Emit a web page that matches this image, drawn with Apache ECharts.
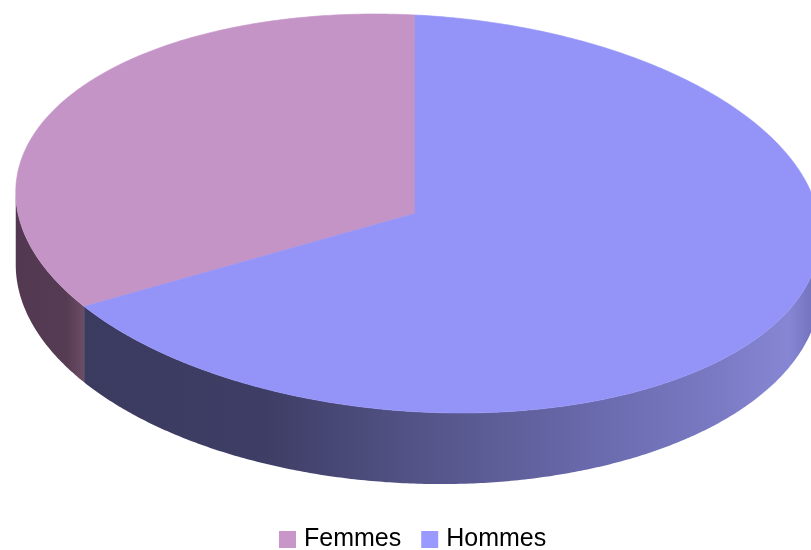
<!DOCTYPE html>
<html>
<head>
<meta charset="utf-8">
<script src="https://cdn.jsdelivr.net/npm/echarts@6/dist/echarts.min.js"></script>
<style>
    html, body { margin: 0; padding: 0; background: #fff; }
    #main { width: 811px; height: 550px; }
</style>
</head>
<body>
<div id="main"></div>
<script>
// data
const categories = ['Femmes', 'Hommes'];
const shares = [34.3, 65.7];
const topColors = ['#c594c7', '#9494f8'];
const legendColors = ['#c896c8', '#9999ff'];

// pie geometry (pixels), tilted ellipse as seen in the 3d view
const cx = 418, cy = 213.5, rx = 403, ry = 198;
const tilt = 4 * Math.PI / 180;
const phase = 2.4;
const total = shares.reduce((a, b) => a + b, 0);

// side wall shading, global x gradient
const wallStops = [
    [[0, '#523850'], [0.75, '#563c53'], [1, '#6b4d66']],
    [[0, '#3b3a5f'], [0.25, '#3e3d65'], [0.48, '#55558a'], [0.71, '#6a6aae'], [0.88, '#7b7bc5'], [0.97, '#8686d4'], [1, '#7474c0']]
];

// wall thickness, thinner towards the right back
function depth(t) {
    return 63 + 13 * Math.cos((t - 225) * Math.PI / 180);
}

function pt(deg, bottom) {
    let td = deg + phase;
    let t = td * Math.PI / 180;
    let u = rx * Math.cos(t), v = -ry * Math.sin(t);
    let x = cx + u * Math.cos(tilt) - v * Math.sin(tilt);
    let y = cy + u * Math.sin(tilt) + v * Math.cos(tilt);
    if (bottom) y += depth(td);
    return [x, y];
}

function startAngle(idx) {
    let s = 0;
    for (let i = 0; i < idx; i++) s += shares[i];
    return 90 + 360 * s / total;
}

// front half of the rim, between the two silhouette points
const wallFrom = 180 + Math.atan2(ry * Math.sin(tilt), rx * Math.cos(tilt)) * 180 / Math.PI - phase;

function renderSlice(idx) {
    return function (params, api) {
        let a1 = startAngle(idx);
        let a2 = a1 + 360 * api.value(0) / total;
        let children = [];
        [[wallFrom, wallFrom + 180], [wallFrom + 360, wallFrom + 540]].forEach(function (r) {
            // small overlap so no seam shows between neighbouring walls
            let w1 = Math.max(a1, r[0]), w2 = Math.min(a2 + 0.4, r[1]);
            if (w2 <= w1) return;
            let top = [], bottom = [];
            for (let a = w1; a <= w2 + 0.001; a += 0.5) {
                let d = Math.min(a, w2);
                top.push(pt(d));
                bottom.push(pt(d, true));
            }
            let p2 = pt(Math.min(a2, r[1]));
            children.push({
                type: 'polygon',
                shape: { points: top.concat(bottom.reverse()) },
                style: {
                    fill: new echarts.graphic.LinearGradient(
                        idx === 0 ? 14 : 80, 0, idx === 0 ? p2[0] : 811, 0,
                        wallStops[idx].map(s => ({ offset: s[0], color: s[1] })), true)
                }
            });
        });
        // top face
        let pts = [[cx - 3, cy]];
        for (let a = a1; a <= a2 + 0.001; a += 0.5) pts.push(pt(Math.min(a, a2)));
        pts.push(pt(a2));
        children.push({
            type: 'polygon',
            shape: { points: pts },
            style: { fill: topColors[idx], stroke: topColors[idx], lineWidth: 0.6 }
        });
        return { type: 'group', children: children };
    };
}

let myChart = echarts.init(document.getElementById('main'));
let option = {
    animation: false,
    legend: {
        data: categories,
        top: 522,
        left: 274,
        icon: 'rect',
        itemWidth: 17,
        itemHeight: 17,
        itemGap: 20,
        textStyle: { fontFamily: 'Liberation Sans', fontSize: 25, color: '#000', padding: [0, 0, 0, 3] }
    },
    series: categories.map(function (name, i) {
        return {
            name: name,
            type: 'custom',
            coordinateSystem: 'none',
            itemStyle: { color: legendColors[i] },
            renderItem: renderSlice(i),
            data: [[shares[i]]]
        };
    })
};
myChart.setOption(option);
window.addEventListener('resize', myChart.resize);
</script>
</body>
</html>
